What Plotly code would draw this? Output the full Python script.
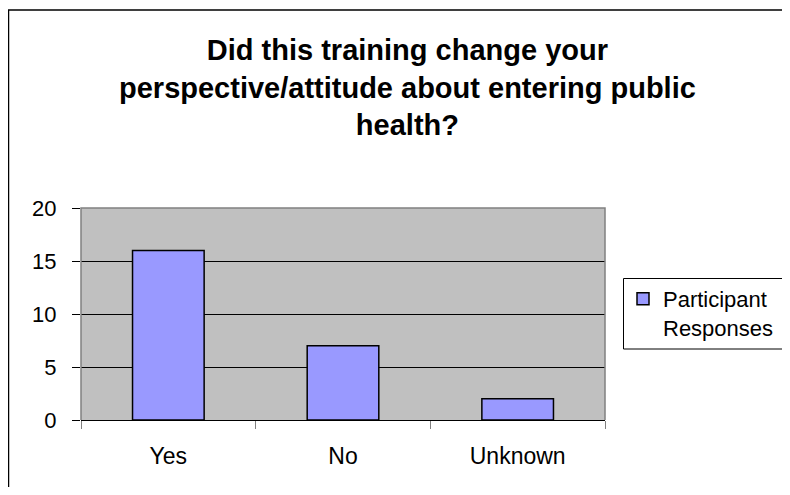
import plotly.graph_objects as go

categories = ["Yes", "No", "Unknown"]
responses = [16, 7, 2]
series_name = "Participant<br>Responses"
title_text = "Did this training change your<br>perspective/attitude about entering public<br>health?"
y_ticks = [0, 5, 10, 15, 20]

FONT = "Liberation Sans, Arial, sans-serif"

# the page body adds an 8px offset; size the figure so the page does not scroll
OFF = 8
W, H = 790 - OFF, 495 - 2 * OFF
L, R, T, B = 81 - OFF, 605 - OFF, 208 - OFF, 420 - OFF

def px(x):
    return ((x - OFF) - L) / (R - L)

def py(y):
    return (B - (y - OFF)) / (B - T)

def cx(x):
    return (x - OFF) / W

def cy(y):
    return 1 - (y - OFF) / H

fig = go.Figure()
fig.add_trace(go.Bar(
    x=categories, y=responses, name=series_name,
    marker=dict(color="#9999FF", line=dict(color="black", width=1.5)),
    showlegend=True,
))

fig.update_layout(
    width=W, height=H,
    margin=dict(l=L, r=W - R, t=T, b=H - B, pad=0),
    paper_bgcolor="white", plot_bgcolor="#C0C0C0",
    font=dict(family=FONT, color="black", size=22),
    bargap=0.59,
    showlegend=True,
    legend=dict(
        xref="container", yref="container",
        x=cx(623), y=cy(278), xanchor="left", yanchor="top",
        bgcolor="rgba(0,0,0,0)", borderwidth=0,
        font=dict(family=FONT, size=22, color="black"),
        itemwidth=30, valign="top", tracegroupgap=0,
    ),
    xaxis=dict(
        showline=True, linecolor="black", linewidth=1,
        ticks="outside", tickson="boundaries", ticklen=8, tickcolor="#808080",
        showgrid=False, tickfont=dict(size=23), ticklabelstandoff=15,
    ),
    yaxis=dict(
        range=[0, 20], tickvals=y_ticks, showgrid=True, gridcolor="black", gridwidth=1,
        showline=False, zeroline=False,
        ticks="outside", ticklen=8, tickcolor="black",
        tickfont=dict(size=22), ticklabelstandoff=11,
    ),
    annotations=[dict(
        text="<b>" + title_text + "</b>", xref="paper", yref="paper",
        x=px(407), y=py(88), xanchor="center", yanchor="middle",
        showarrow=False, align="center",
        font=dict(family=FONT, size=29, color="black"),
    )],
    shapes=[
        # plot area border (top/left/right) in gray
        dict(type="path", xref="paper", yref="paper",
             path="M 0,0 L 0,1 L 1,1 L 1,0",
             line=dict(color="#808080", width=1.5), layer="above"),
        # outer chart border (top and left visible)
        dict(type="path", xref="paper", yref="paper",
             path=f"M {px(8.5)},{py(510)} L {px(8.5)},{py(10)} L {px(810)},{py(10)}",
             line=dict(color="black", width=1.5), layer="above"),
        # legend frame (runs off the right edge like the reference)
        dict(type="rect", xref="paper", yref="paper",
             x0=px(623.5), x1=px(820), y0=py(349), y1=py(278.5),
             line=dict(color="black", width=1), fillcolor="rgba(0,0,0,0)",
             layer="above"),
    ],
)

fig.write_html("out.html")
